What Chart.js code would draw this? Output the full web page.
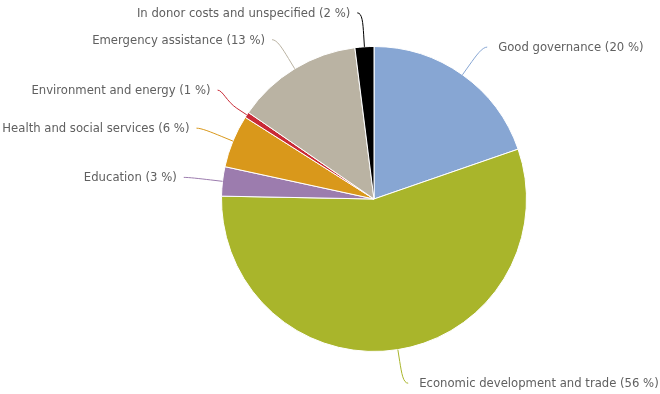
<!DOCTYPE html>
<html>
<head>
<meta charset="utf-8">
<script src="https://cdn.jsdelivr.net/npm/chart.js@4/dist/chart.umd.min.js"></script>
<style>
  html, body { margin: 0; padding: 0; background: #fff; }
  #wrap { position: relative; width: 660px; height: 394px; }
</style>
</head>
<body>
<div id="wrap"><canvas id="chart" width="660" height="394"></canvas></div>
<script>
const categories = [
  'Good governance',
  'Economic development and trade',
  'Education',
  'Health and social services',
  'Environment and energy',
  'Emergency assistance',
  'In donor costs and unspecified'
];
const shares = [19.7, 55.6, 3.1, 5.6, 0.6, 13.4, 2.0];
const sliceColors = ['#87a6d3', '#a9b52b', '#9c7cae', '#d9981b', '#c92a36', '#bab3a3', '#000000'];

const total = shares.reduce((a, b) => a + b, 0);
const labelTexts = categories.map((c, i) => c + ' (' + Math.round(shares[i] / total * 100) + ' %)');

const FONT = '11.65px "DejaVu Sans"';
// thin slices get their label lifted a little so it clears the neighbouring connectors
const labelLift = { 4: -6 };

// Data labels with soft (curved) connectors drawn outside the pie
const sliceLabels = {
  id: 'sliceLabels',
  afterDatasetsDraw(chart) {
    const ctx = chart.ctx;
    const arcs = chart.getDatasetMeta(0).data;
    ctx.save();
    ctx.font = FONT;
    ctx.textBaseline = 'middle';
    arcs.forEach((arc, i) => {
      const { x: cx, y: cy, startAngle, endAngle, outerRadius: r } =
        arc.getProps(['x', 'y', 'startAngle', 'endAngle', 'outerRadius'], true);
      const mid = (startAngle + endAngle) / 2;
      const cos = Math.cos(mid), sin = Math.sin(mid);
      const right = cos >= 0;
      const R = r + 34;
      const ex = cx + r * cos, ey = cy + r * sin;
      const bx = cx + (r + 12) * cos, by = cy + (r + 12) * sin;
      const ly = cy + R * sin + (labelLift[i] || 0);
      const dx = Math.sqrt(Math.max(R * R - (ly - cy) * (ly - cy), 0));
      const lx = cx + (right ? dx : -dx);
      ctx.strokeStyle = sliceColors[i];
      ctx.lineWidth = 1;
      ctx.beginPath();
      ctx.moveTo(lx + (right ? 5 : -5), ly);
      ctx.bezierCurveTo(lx, ly, 2 * bx - ex, 2 * by - ey, bx, by);
      ctx.lineTo(ex, ey);
      ctx.stroke();
      ctx.fillStyle = '#606060';
      ctx.textAlign = right ? 'left' : 'right';
      ctx.fillText(labelTexts[i], lx + (right ? 16 : -12), ly + 1);
    });
    ctx.restore();
  }
};

new Chart(document.getElementById('chart'), {
  type: 'pie',
  data: {
    labels: categories,
    datasets: [{
      data: shares,
      backgroundColor: sliceColors,
      borderColor: '#ffffff',
      borderWidth: 1
    }]
  },
  options: {
    responsive: false,
    animation: false,
    layout: { padding: { left: 88, right: 0, top: 46, bottom: 42 } },
    plugins: { legend: { display: false }, tooltip: { enabled: false } }
  },
  plugins: [sliceLabels]
});
</script>
</body>
</html>
